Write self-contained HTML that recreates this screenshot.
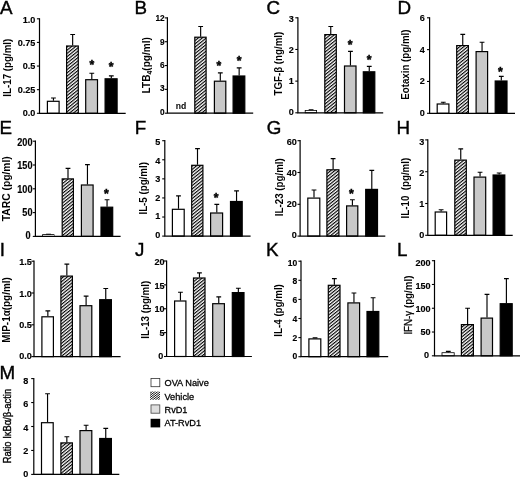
<!DOCTYPE html>
<html><head><meta charset="utf-8"><title>Figure</title>
<style>html,body{margin:0;padding:0;background:#fff;}svg{display:block;filter:grayscale(1);}text{font-family:"Liberation Sans", sans-serif;fill:#000;}.t{font-weight:bold;font-size:9.9px;text-anchor:end;stroke:#000;stroke-width:0.15px;}.yl{font-weight:bold;font-size:10.6px;text-anchor:middle;}.pl{font-size:18.8px;stroke:#000;stroke-width:0.4px;}.lg{font-size:9.2px;}.st{font-weight:bold;font-size:12.2px;text-anchor:middle;stroke:#000;stroke-width:0.45px;}.nd{font-weight:bold;font-size:8.6px;text-anchor:middle;}</style></head><body>
<svg width="520" height="477" viewBox="0 0 520 477">
<defs><pattern id="h" patternUnits="userSpaceOnUse" width="2.52" height="2.52" patternTransform="rotate(51)"><rect x="0" y="0" width="2.52" height="2.52" fill="#fff"/><rect x="0" y="0" width="1.15" height="2.52" fill="#000"/></pattern></defs>
<rect x="0" y="0" width="520" height="477" fill="#fff"/>
<g>
<text class="pl" x="-0.1" y="14.2">A</text>
<text class="yl" style="font-size:10.60px" transform="translate(6.9,67.7) rotate(-90) scale(0.920,1)" x="0" y="3.71">IL-17 (pg/ml)</text>
<path d="M53.45 100.80V98.00M51.05 98.00H55.85" stroke="#000" stroke-width="1.15" fill="none"/>
<path d="M72.65 45.50V34.50M70.25 34.50H75.05" stroke="#000" stroke-width="1.15" fill="none"/>
<path d="M91.80 79.20V73.20M89.40 73.20H94.20" stroke="#000" stroke-width="1.15" fill="none"/>
<path d="M111.30 78.30V75.90M108.90 75.90H113.70" stroke="#000" stroke-width="1.15" fill="none"/>
<rect x="47.40" y="101.30" width="11.70" height="12.00" fill="#fff" stroke="#000" stroke-width="1.2"/>
<rect x="66.60" y="46.00" width="11.70" height="67.30" fill="url(#h)" stroke="#000" stroke-width="1.2"/>
<rect x="85.70" y="79.70" width="11.80" height="33.60" fill="#c8c8c8" stroke="#000" stroke-width="1.2"/>
<rect x="105.10" y="78.80" width="12.00" height="34.50" fill="#000" stroke="#000" stroke-width="1.2"/>
<path d="M39.50 18.20V113.30H125.70" stroke="#000" stroke-width="1.2" fill="none"/>
<path d="M36.90 113.30H39.50" stroke="#000" stroke-width="1.1"/>
<text class="t" style="font-size:9.90px" transform="translate(35.4,115.8) scale(0.920,1)" x="0" y="0">0.0</text>
<path d="M36.90 89.67H39.50" stroke="#000" stroke-width="1.1"/>
<text class="t" style="font-size:9.90px" transform="translate(35.4,92.6) scale(0.920,1)" x="0" y="0">0.25</text>
<path d="M36.90 66.05H39.50" stroke="#000" stroke-width="1.1"/>
<text class="t" style="font-size:9.90px" transform="translate(35.4,69.3) scale(0.920,1)" x="0" y="0">0.5</text>
<path d="M36.90 42.42H39.50" stroke="#000" stroke-width="1.1"/>
<text class="t" style="font-size:9.90px" transform="translate(35.4,46.0) scale(0.920,1)" x="0" y="0">0.75</text>
<path d="M36.90 18.80H39.50" stroke="#000" stroke-width="1.1"/>
<text class="t" style="font-size:9.90px" transform="translate(35.4,22.7) scale(0.920,1)" x="0" y="0">1.0</text>
<text class="st" x="91.8" y="69.4">*</text>
<text class="st" x="111.0" y="71.0">*</text>
</g>
<g>
<text class="pl" x="134.5" y="14.2">B</text>
<text class="yl" style="font-size:11.00px" transform="translate(146.4,65.2) rotate(-90) scale(0.920,1)" x="0" y="3.85">LTB<tspan font-size="7.5px" dy="1.8">4</tspan><tspan dy="-1.8">(pg/ml)</tspan></text>
<path d="M200.65 36.70V26.50M198.25 26.50H203.05" stroke="#000" stroke-width="1.15" fill="none"/>
<path d="M220.30 80.70V72.90M217.90 72.90H222.70" stroke="#000" stroke-width="1.15" fill="none"/>
<path d="M239.15 75.50V67.90M236.75 67.90H241.55" stroke="#000" stroke-width="1.15" fill="none"/>
<rect x="194.80" y="37.20" width="11.30" height="76.00" fill="url(#h)" stroke="#000" stroke-width="1.2"/>
<rect x="214.40" y="81.20" width="11.40" height="32.00" fill="#c8c8c8" stroke="#000" stroke-width="1.2"/>
<rect x="233.10" y="76.00" width="11.70" height="37.20" fill="#000" stroke="#000" stroke-width="1.2"/>
<path d="M167.40 17.30V113.20H253.20" stroke="#000" stroke-width="1.2" fill="none"/>
<path d="M164.80 113.20H167.40" stroke="#000" stroke-width="1.1"/>
<text class="t" style="font-size:8.90px" transform="translate(164.7,114.8) scale(0.930,1)" x="0" y="0">0</text>
<path d="M164.80 89.38H167.40" stroke="#000" stroke-width="1.1"/>
<text class="t" style="font-size:8.90px" transform="translate(164.7,91.4) scale(0.930,1)" x="0" y="0">3</text>
<path d="M164.80 65.55H167.40" stroke="#000" stroke-width="1.1"/>
<text class="t" style="font-size:8.90px" transform="translate(164.7,68.1) scale(0.930,1)" x="0" y="0">6</text>
<path d="M164.80 41.72H167.40" stroke="#000" stroke-width="1.1"/>
<text class="t" style="font-size:8.90px" transform="translate(164.7,44.7) scale(0.930,1)" x="0" y="0">9</text>
<path d="M164.80 17.90H167.40" stroke="#000" stroke-width="1.1"/>
<text class="t" style="font-size:8.90px" transform="translate(164.7,21.4) scale(0.930,1)" x="0" y="0">12</text>
<text class="st" x="218.8" y="69.8">*</text>
<text class="st" x="239.0" y="65.1">*</text>
<text class="nd" x="181.0" y="109.3">nd</text>
</g>
<g>
<text class="pl" x="266.4" y="14.2">C</text>
<text class="yl" style="font-size:10.60px" transform="translate(277.9,63.6) rotate(-90) scale(0.920,1)" x="0" y="3.71">TGF-β (ng/ml)</text>
<path d="M311.10 110.20V109.70M308.70 109.70H313.50" stroke="#000" stroke-width="1.15" fill="none"/>
<path d="M330.75 34.10V26.50M328.35 26.50H333.15" stroke="#000" stroke-width="1.15" fill="none"/>
<path d="M350.45 65.50V51.40M348.05 51.40H352.85" stroke="#000" stroke-width="1.15" fill="none"/>
<path d="M369.25 71.30V66.30M366.85 66.30H371.65" stroke="#000" stroke-width="1.15" fill="none"/>
<rect x="305.20" y="110.50" width="11.40" height="2.30" fill="#fff" stroke="#000" stroke-width="0.8"/>
<rect x="324.80" y="34.60" width="11.50" height="78.20" fill="url(#h)" stroke="#000" stroke-width="1.2"/>
<rect x="344.50" y="66.00" width="11.50" height="46.80" fill="#c8c8c8" stroke="#000" stroke-width="1.2"/>
<rect x="363.30" y="71.80" width="11.50" height="41.00" fill="#000" stroke="#000" stroke-width="1.2"/>
<path d="M297.90 17.20V112.80H383.20" stroke="#000" stroke-width="1.2" fill="none"/>
<path d="M295.30 112.80H297.90" stroke="#000" stroke-width="1.1"/>
<text class="t" style="font-size:9.90px" transform="translate(293.8,115.1) scale(0.920,1)" x="0" y="0">0</text>
<path d="M295.30 81.13H297.90" stroke="#000" stroke-width="1.1"/>
<text class="t" style="font-size:9.90px" transform="translate(293.8,84.0) scale(0.920,1)" x="0" y="0">1</text>
<path d="M295.30 49.47H297.90" stroke="#000" stroke-width="1.1"/>
<text class="t" style="font-size:9.90px" transform="translate(293.8,52.9) scale(0.920,1)" x="0" y="0">2</text>
<path d="M295.30 17.80H297.90" stroke="#000" stroke-width="1.1"/>
<text class="t" style="font-size:9.90px" transform="translate(293.8,21.8) scale(0.920,1)" x="0" y="0">3</text>
<text class="st" x="350.1" y="49.4">*</text>
<text class="st" x="369.0" y="64.3">*</text>
</g>
<g>
<text class="pl" x="397.4" y="14.2">D</text>
<text class="yl" style="font-size:10.60px" transform="translate(405.6,64.6) rotate(-90) scale(0.920,1)" x="0" y="3.71">Eotaxin (pg/ml)</text>
<path d="M443.25 103.50V102.20M440.85 102.20H445.65" stroke="#000" stroke-width="1.15" fill="none"/>
<path d="M462.75 45.10V34.40M460.35 34.40H465.15" stroke="#000" stroke-width="1.15" fill="none"/>
<path d="M482.05 51.10V42.20M479.65 42.20H484.45" stroke="#000" stroke-width="1.15" fill="none"/>
<path d="M501.30 80.50V76.30M498.90 76.30H503.70" stroke="#000" stroke-width="1.15" fill="none"/>
<rect x="437.20" y="104.00" width="11.70" height="9.30" fill="#fff" stroke="#000" stroke-width="1.2"/>
<rect x="456.70" y="45.60" width="11.70" height="67.70" fill="url(#h)" stroke="#000" stroke-width="1.2"/>
<rect x="476.10" y="51.60" width="11.50" height="61.70" fill="#c8c8c8" stroke="#000" stroke-width="1.2"/>
<rect x="495.20" y="81.00" width="11.80" height="32.30" fill="#000" stroke="#000" stroke-width="1.2"/>
<path d="M429.60 17.20V113.30H515.00" stroke="#000" stroke-width="1.2" fill="none"/>
<path d="M427.00 113.30H429.60" stroke="#000" stroke-width="1.1"/>
<text class="t" style="font-size:9.90px" transform="translate(424.8,115.7) scale(0.920,1)" x="0" y="0">0</text>
<path d="M427.00 81.47H429.60" stroke="#000" stroke-width="1.1"/>
<text class="t" style="font-size:9.90px" transform="translate(424.8,84.3) scale(0.920,1)" x="0" y="0">2</text>
<path d="M427.00 49.63H429.60" stroke="#000" stroke-width="1.1"/>
<text class="t" style="font-size:9.90px" transform="translate(424.8,52.9) scale(0.920,1)" x="0" y="0">4</text>
<path d="M427.00 17.80H429.60" stroke="#000" stroke-width="1.1"/>
<text class="t" style="font-size:9.90px" transform="translate(424.8,21.4) scale(0.920,1)" x="0" y="0">6</text>
<text class="st" x="500.3" y="75.6">*</text>
</g>
<g>
<text class="pl" x="-0.4" y="133.8">E</text>
<text class="yl" style="font-size:11.20px" transform="translate(5.9,188.7) rotate(-90) scale(0.920,1)" x="0" y="3.92">TARC (pg/ml)</text>
<path d="M48.50 234.30V234.30M46.10 234.30H50.90" stroke="#000" stroke-width="1.15" fill="none"/>
<path d="M68.00 178.40V168.30M65.60 168.30H70.40" stroke="#000" stroke-width="1.15" fill="none"/>
<path d="M87.45 184.50V164.60M85.05 164.60H89.85" stroke="#000" stroke-width="1.15" fill="none"/>
<path d="M107.05 206.70V199.70M104.65 199.70H109.45" stroke="#000" stroke-width="1.15" fill="none"/>
<rect x="42.60" y="234.60" width="11.40" height="1.80" fill="#fff" stroke="#000" stroke-width="0.8"/>
<rect x="62.20" y="178.90" width="11.20" height="57.50" fill="url(#h)" stroke="#000" stroke-width="1.2"/>
<rect x="81.40" y="185.00" width="11.70" height="51.40" fill="#c8c8c8" stroke="#000" stroke-width="1.2"/>
<rect x="101.00" y="207.20" width="11.70" height="29.20" fill="#000" stroke="#000" stroke-width="1.2"/>
<path d="M35.40 140.60V236.40H120.60" stroke="#000" stroke-width="1.2" fill="none"/>
<path d="M32.80 236.40H35.40" stroke="#000" stroke-width="1.1"/>
<text class="t" style="font-size:10.40px" transform="translate(30.5,239.0) scale(0.880,1)" x="0" y="0">0</text>
<path d="M32.80 212.60H35.40" stroke="#000" stroke-width="1.1"/>
<text class="t" style="font-size:10.40px" transform="translate(32.5,215.8) scale(0.880,1)" x="0" y="0">50</text>
<path d="M32.80 188.80H35.40" stroke="#000" stroke-width="1.1"/>
<text class="t" style="font-size:10.40px" transform="translate(32.5,192.6) scale(0.880,1)" x="0" y="0">100</text>
<path d="M32.80 165.00H35.40" stroke="#000" stroke-width="1.1"/>
<text class="t" style="font-size:10.40px" transform="translate(32.5,169.3) scale(0.880,1)" x="0" y="0">150</text>
<path d="M32.80 141.20H35.40" stroke="#000" stroke-width="1.1"/>
<text class="t" style="font-size:10.40px" transform="translate(32.5,146.1) scale(0.880,1)" x="0" y="0">200</text>
<text class="st" x="106.4" y="197.6">*</text>
</g>
<g>
<text class="pl" x="134.7" y="133.8">F</text>
<text class="yl" style="font-size:10.60px" transform="translate(143.7,188.3) rotate(-90) scale(0.920,1)" x="0" y="3.71">IL-5 (pg/ml)</text>
<path d="M178.50 208.80V195.80M176.10 195.80H180.90" stroke="#000" stroke-width="1.15" fill="none"/>
<path d="M197.50 164.80V148.60M195.10 148.60H199.90" stroke="#000" stroke-width="1.15" fill="none"/>
<path d="M216.80 212.50V204.40M214.40 204.40H219.20" stroke="#000" stroke-width="1.15" fill="none"/>
<path d="M236.55 201.00V190.80M234.15 190.80H238.95" stroke="#000" stroke-width="1.15" fill="none"/>
<rect x="172.40" y="209.30" width="11.80" height="26.80" fill="#fff" stroke="#000" stroke-width="1.2"/>
<rect x="191.70" y="165.30" width="11.20" height="70.80" fill="url(#h)" stroke="#000" stroke-width="1.2"/>
<rect x="210.60" y="213.00" width="12.00" height="23.10" fill="#c8c8c8" stroke="#000" stroke-width="1.2"/>
<rect x="230.50" y="201.50" width="11.70" height="34.60" fill="#000" stroke="#000" stroke-width="1.2"/>
<path d="M164.80 140.10V236.10H250.60" stroke="#000" stroke-width="1.2" fill="none"/>
<path d="M162.20 236.10H164.80" stroke="#000" stroke-width="1.1"/>
<text class="t" style="font-size:9.90px" transform="translate(160.4,237.6) scale(0.920,1)" x="0" y="0">0</text>
<path d="M162.20 217.02H164.80" stroke="#000" stroke-width="1.1"/>
<text class="t" style="font-size:9.90px" transform="translate(160.4,219.2) scale(0.920,1)" x="0" y="0">1</text>
<path d="M162.20 197.94H164.80" stroke="#000" stroke-width="1.1"/>
<text class="t" style="font-size:9.90px" transform="translate(160.4,200.8) scale(0.920,1)" x="0" y="0">2</text>
<path d="M162.20 178.86H164.80" stroke="#000" stroke-width="1.1"/>
<text class="t" style="font-size:9.90px" transform="translate(160.4,182.3) scale(0.920,1)" x="0" y="0">3</text>
<path d="M162.20 159.78H164.80" stroke="#000" stroke-width="1.1"/>
<text class="t" style="font-size:9.90px" transform="translate(160.4,163.9) scale(0.920,1)" x="0" y="0">4</text>
<path d="M162.20 140.70H164.80" stroke="#000" stroke-width="1.1"/>
<text class="t" style="font-size:9.90px" transform="translate(160.4,145.4) scale(0.920,1)" x="0" y="0">5</text>
<text class="st" x="216.2" y="202.0">*</text>
</g>
<g>
<text class="pl" x="266.7" y="133.8">G</text>
<text class="yl" style="font-size:10.60px" transform="translate(279.3,187.2) rotate(-90) scale(0.920,1)" x="0" y="3.71">IL-23 (pg/ml)</text>
<path d="M314.00 197.60V190.00M311.60 190.00H316.40" stroke="#000" stroke-width="1.15" fill="none"/>
<path d="M333.10 169.30V158.60M330.70 158.60H335.50" stroke="#000" stroke-width="1.15" fill="none"/>
<path d="M352.40 205.40V199.70M350.00 199.70H354.80" stroke="#000" stroke-width="1.15" fill="none"/>
<path d="M371.80 188.90V170.30M369.40 170.30H374.20" stroke="#000" stroke-width="1.15" fill="none"/>
<rect x="307.80" y="198.10" width="12.00" height="38.00" fill="#fff" stroke="#000" stroke-width="1.2"/>
<rect x="326.90" y="169.80" width="12.00" height="66.30" fill="url(#h)" stroke="#000" stroke-width="1.2"/>
<rect x="346.60" y="205.90" width="11.20" height="30.20" fill="#c8c8c8" stroke="#000" stroke-width="1.2"/>
<rect x="365.70" y="189.40" width="11.80" height="46.70" fill="#000" stroke="#000" stroke-width="1.2"/>
<path d="M300.10 140.10V236.10H385.30" stroke="#000" stroke-width="1.2" fill="none"/>
<path d="M297.50 236.10H300.10" stroke="#000" stroke-width="1.1"/>
<text class="t" style="font-size:9.90px" transform="translate(296.9,237.7) scale(0.920,1)" x="0" y="0">0</text>
<path d="M297.50 204.30H300.10" stroke="#000" stroke-width="1.1"/>
<text class="t" style="font-size:9.90px" transform="translate(296.9,206.9) scale(0.920,1)" x="0" y="0">20</text>
<path d="M297.50 172.50H300.10" stroke="#000" stroke-width="1.1"/>
<text class="t" style="font-size:9.90px" transform="translate(296.9,176.1) scale(0.920,1)" x="0" y="0">40</text>
<path d="M297.50 140.70H300.10" stroke="#000" stroke-width="1.1"/>
<text class="t" style="font-size:9.90px" transform="translate(296.9,145.2) scale(0.920,1)" x="0" y="0">60</text>
<text class="st" x="351.4" y="197.6">*</text>
</g>
<g>
<text class="pl" x="396.6" y="133.8">H</text>
<text class="yl" style="font-size:10.60px" transform="translate(405.3,188.1) rotate(-90) scale(0.920,1)" x="0" y="3.71">IL-10&#160;&#160;(pg/ml)</text>
<path d="M441.10 211.50V209.70M438.70 209.70H443.50" stroke="#000" stroke-width="1.15" fill="none"/>
<path d="M460.75 159.60V148.90M458.35 148.90H463.15" stroke="#000" stroke-width="1.15" fill="none"/>
<path d="M480.05 176.60V172.20M477.65 172.20H482.45" stroke="#000" stroke-width="1.15" fill="none"/>
<path d="M499.15 174.50V173.00M496.75 173.00H501.55" stroke="#000" stroke-width="1.15" fill="none"/>
<rect x="435.20" y="212.00" width="11.40" height="23.30" fill="#fff" stroke="#000" stroke-width="1.2"/>
<rect x="454.80" y="160.10" width="11.50" height="75.20" fill="url(#h)" stroke="#000" stroke-width="1.2"/>
<rect x="474.00" y="177.10" width="11.70" height="58.20" fill="#c8c8c8" stroke="#000" stroke-width="1.2"/>
<rect x="493.10" y="175.00" width="11.70" height="60.30" fill="#000" stroke="#000" stroke-width="1.2"/>
<path d="M427.80 139.30V235.30H512.70" stroke="#000" stroke-width="1.2" fill="none"/>
<path d="M425.20 235.30H427.80" stroke="#000" stroke-width="1.1"/>
<text class="t" style="font-size:9.90px" transform="translate(424.2,238.0) scale(0.920,1)" x="0" y="0">0</text>
<path d="M425.20 203.50H427.80" stroke="#000" stroke-width="1.1"/>
<text class="t" style="font-size:9.90px" transform="translate(424.2,207.0) scale(0.920,1)" x="0" y="0">1</text>
<path d="M425.20 171.70H427.80" stroke="#000" stroke-width="1.1"/>
<text class="t" style="font-size:9.90px" transform="translate(424.2,176.0) scale(0.920,1)" x="0" y="0">2</text>
<path d="M425.20 139.90H427.80" stroke="#000" stroke-width="1.1"/>
<text class="t" style="font-size:9.90px" transform="translate(424.2,145.0) scale(0.920,1)" x="0" y="0">3</text>
</g>
<g>
<text class="pl" x="-0.3" y="255.6">I</text>
<text class="yl" style="font-size:10.80px" transform="translate(6.4,310.0) rotate(-90) scale(0.920,1)" x="0" y="3.78">MIP-1α(pg/ml)</text>
<path d="M47.85 316.30V310.80M45.45 310.80H50.25" stroke="#000" stroke-width="1.15" fill="none"/>
<path d="M66.85 275.60V264.10M64.45 264.10H69.25" stroke="#000" stroke-width="1.15" fill="none"/>
<path d="M86.10 305.20V296.10M83.70 296.10H88.50" stroke="#000" stroke-width="1.15" fill="none"/>
<path d="M105.75 299.20V288.50M103.35 288.50H108.15" stroke="#000" stroke-width="1.15" fill="none"/>
<rect x="41.90" y="316.80" width="11.50" height="39.80" fill="#fff" stroke="#000" stroke-width="1.2"/>
<rect x="60.90" y="276.10" width="11.50" height="80.50" fill="url(#h)" stroke="#000" stroke-width="1.2"/>
<rect x="80.00" y="305.70" width="11.80" height="50.90" fill="#c8c8c8" stroke="#000" stroke-width="1.2"/>
<rect x="99.70" y="299.70" width="11.70" height="56.90" fill="#000" stroke="#000" stroke-width="1.2"/>
<path d="M34.00 260.60V356.60H120.60" stroke="#000" stroke-width="1.2" fill="none"/>
<path d="M31.40 356.60H34.00" stroke="#000" stroke-width="1.1"/>
<text class="t" style="font-size:9.90px" transform="translate(31.8,359.1) scale(0.920,1)" x="0" y="0">0.0</text>
<path d="M31.40 324.80H34.00" stroke="#000" stroke-width="1.1"/>
<text class="t" style="font-size:9.90px" transform="translate(31.8,327.9) scale(0.920,1)" x="0" y="0">0.5</text>
<path d="M31.40 293.00H34.00" stroke="#000" stroke-width="1.1"/>
<text class="t" style="font-size:9.90px" transform="translate(31.8,296.6) scale(0.920,1)" x="0" y="0">1.0</text>
<path d="M31.40 261.20H34.00" stroke="#000" stroke-width="1.1"/>
<text class="t" style="font-size:9.90px" transform="translate(31.8,265.3) scale(0.920,1)" x="0" y="0">1.5</text>
</g>
<g>
<text class="pl" x="135.0" y="255.6">J</text>
<text class="yl" style="font-size:10.60px" transform="translate(145.0,309.8) rotate(-90) scale(0.920,1)" x="0" y="3.71">IL-13 (pg/ml)</text>
<path d="M180.45 300.50V292.20M178.05 292.20H182.85" stroke="#000" stroke-width="1.15" fill="none"/>
<path d="M199.45 277.50V272.80M197.05 272.80H201.85" stroke="#000" stroke-width="1.15" fill="none"/>
<path d="M218.75 303.20V296.90M216.35 296.90H221.15" stroke="#000" stroke-width="1.15" fill="none"/>
<path d="M238.35 292.10V288.20M235.95 288.20H240.75" stroke="#000" stroke-width="1.15" fill="none"/>
<rect x="174.60" y="301.00" width="11.30" height="55.50" fill="#fff" stroke="#000" stroke-width="1.2"/>
<rect x="193.50" y="278.00" width="11.50" height="78.50" fill="url(#h)" stroke="#000" stroke-width="1.2"/>
<rect x="212.70" y="303.70" width="11.70" height="52.80" fill="#c8c8c8" stroke="#000" stroke-width="1.2"/>
<rect x="232.30" y="292.60" width="11.70" height="63.90" fill="#000" stroke="#000" stroke-width="1.2"/>
<path d="M166.60 260.40V356.50H251.90" stroke="#000" stroke-width="1.2" fill="none"/>
<path d="M164.00 356.50H166.60" stroke="#000" stroke-width="1.1"/>
<text class="t" style="font-size:9.90px" transform="translate(163.3,358.9) scale(0.920,1)" x="0" y="0">0</text>
<path d="M164.00 332.62H166.60" stroke="#000" stroke-width="1.1"/>
<text class="t" style="font-size:9.90px" transform="translate(164.6,335.6) scale(0.920,1)" x="0" y="0">5</text>
<path d="M164.00 308.75H166.60" stroke="#000" stroke-width="1.1"/>
<text class="t" style="font-size:9.90px" transform="translate(164.6,312.2) scale(0.920,1)" x="0" y="0">10</text>
<path d="M164.00 284.88H166.60" stroke="#000" stroke-width="1.1"/>
<text class="t" style="font-size:9.90px" transform="translate(164.6,288.8) scale(0.920,1)" x="0" y="0">15</text>
<path d="M164.00 261.00H166.60" stroke="#000" stroke-width="1.1"/>
<text class="t" style="font-size:9.90px" transform="translate(164.6,265.4) scale(0.920,1)" x="0" y="0">20</text>
</g>
<g>
<text class="pl" x="266.1" y="255.6">K</text>
<text class="yl" style="font-size:10.60px" transform="translate(277.8,310.4) rotate(-90) scale(0.920,1)" x="0" y="3.71">IL-4 (pg/ml)</text>
<path d="M315.05 338.40V337.80M312.65 337.80H317.45" stroke="#000" stroke-width="1.15" fill="none"/>
<path d="M334.35 284.80V278.60M331.95 278.60H336.75" stroke="#000" stroke-width="1.15" fill="none"/>
<path d="M353.95 302.40V293.00M351.55 293.00H356.35" stroke="#000" stroke-width="1.15" fill="none"/>
<path d="M373.10 311.00V297.70M370.70 297.70H375.50" stroke="#000" stroke-width="1.15" fill="none"/>
<rect x="308.90" y="338.90" width="11.90" height="17.80" fill="#fff" stroke="#000" stroke-width="1.2"/>
<rect x="328.30" y="285.30" width="11.70" height="71.40" fill="url(#h)" stroke="#000" stroke-width="1.2"/>
<rect x="347.90" y="302.90" width="11.70" height="53.80" fill="#c8c8c8" stroke="#000" stroke-width="1.2"/>
<rect x="367.00" y="311.50" width="11.80" height="45.20" fill="#000" stroke="#000" stroke-width="1.2"/>
<path d="M301.00 260.60V356.70H388.20" stroke="#000" stroke-width="1.2" fill="none"/>
<path d="M298.40 356.70H301.00" stroke="#000" stroke-width="1.1"/>
<text class="t" style="font-size:9.20px" transform="translate(297.2,359.4) scale(0.930,1)" x="0" y="0">0</text>
<path d="M298.40 337.60H301.00" stroke="#000" stroke-width="1.1"/>
<text class="t" style="font-size:9.20px" transform="translate(297.2,340.7) scale(0.930,1)" x="0" y="0">2</text>
<path d="M298.40 318.50H301.00" stroke="#000" stroke-width="1.1"/>
<text class="t" style="font-size:9.20px" transform="translate(297.2,321.9) scale(0.930,1)" x="0" y="0">4</text>
<path d="M298.40 299.40H301.00" stroke="#000" stroke-width="1.1"/>
<text class="t" style="font-size:9.20px" transform="translate(297.2,303.2) scale(0.930,1)" x="0" y="0">6</text>
<path d="M298.40 280.30H301.00" stroke="#000" stroke-width="1.1"/>
<text class="t" style="font-size:9.20px" transform="translate(297.2,284.4) scale(0.930,1)" x="0" y="0">8</text>
<path d="M298.40 261.20H301.00" stroke="#000" stroke-width="1.1"/>
<text class="t" style="font-size:9.20px" transform="translate(297.2,265.7) scale(0.930,1)" x="0" y="0">10</text>
</g>
<g>
<text class="pl" x="396.9" y="255.6">L</text>
<text class="yl" style="font-size:10.60px" transform="translate(408.2,305.1) rotate(-90) scale(0.920,1)" x="0" y="3.71"><tspan font-weight="normal" stroke="#000" stroke-width="0.3">IFN-γ</tspan> (pg/ml)</text>
<path d="M448.30 352.40V351.40M445.90 351.40H450.70" stroke="#000" stroke-width="1.15" fill="none"/>
<path d="M467.60 324.10V308.20M465.20 308.20H470.00" stroke="#000" stroke-width="1.15" fill="none"/>
<path d="M487.00 317.60V294.30M484.60 294.30H489.40" stroke="#000" stroke-width="1.15" fill="none"/>
<path d="M506.40 303.20V278.60M504.00 278.60H508.80" stroke="#000" stroke-width="1.15" fill="none"/>
<rect x="442.00" y="352.70" width="12.20" height="3.10" fill="#fff" stroke="#000" stroke-width="0.8"/>
<rect x="461.40" y="324.60" width="12.00" height="31.20" fill="url(#h)" stroke="#000" stroke-width="1.2"/>
<rect x="481.10" y="318.10" width="11.40" height="37.70" fill="#c8c8c8" stroke="#000" stroke-width="1.2"/>
<rect x="500.20" y="303.70" width="12.00" height="52.10" fill="#000" stroke="#000" stroke-width="1.2"/>
<path d="M434.50 260.10V355.80H520.00" stroke="#000" stroke-width="1.2" fill="none"/>
<path d="M431.90 355.80H434.50" stroke="#000" stroke-width="1.1"/>
<text class="t" style="font-size:9.90px" transform="translate(429.1,358.2) scale(0.920,1)" x="0" y="0">0</text>
<path d="M431.90 332.02H434.50" stroke="#000" stroke-width="1.1"/>
<text class="t" style="font-size:9.90px" transform="translate(430.6,335.1) scale(0.920,1)" x="0" y="0">50</text>
<path d="M431.90 308.25H434.50" stroke="#000" stroke-width="1.1"/>
<text class="t" style="font-size:9.90px" transform="translate(430.6,312.0) scale(0.920,1)" x="0" y="0">100</text>
<path d="M431.90 284.48H434.50" stroke="#000" stroke-width="1.1"/>
<text class="t" style="font-size:9.90px" transform="translate(430.6,288.9) scale(0.920,1)" x="0" y="0">150</text>
<path d="M431.90 260.70H434.50" stroke="#000" stroke-width="1.1"/>
<text class="t" style="font-size:9.90px" transform="translate(430.6,265.8) scale(0.920,1)" x="0" y="0">200</text>
</g>
<g>
<text class="pl" x="-0.4" y="378.9">M</text>
<text class="yl" style="font-size:10.20px" transform="translate(7.2,426.1) rotate(-90) scale(0.920,1)" x="0" y="3.57"><tspan font-weight="normal" stroke="#000" stroke-width="0.35">Ratio IκBα/β-actin</tspan></text>
<path d="M47.55 422.20V393.70M45.15 393.70H49.95" stroke="#000" stroke-width="1.15" fill="none"/>
<path d="M66.85 442.40V436.70M64.45 436.70H69.25" stroke="#000" stroke-width="1.15" fill="none"/>
<path d="M86.10 430.10V425.20M83.70 425.20H88.50" stroke="#000" stroke-width="1.15" fill="none"/>
<path d="M105.75 438.00V428.30M103.35 428.30H108.15" stroke="#000" stroke-width="1.15" fill="none"/>
<rect x="41.50" y="422.70" width="11.70" height="51.70" fill="#fff" stroke="#000" stroke-width="1.2"/>
<rect x="60.90" y="442.90" width="11.50" height="31.50" fill="url(#h)" stroke="#000" stroke-width="1.2"/>
<rect x="80.00" y="430.60" width="11.80" height="43.80" fill="#c8c8c8" stroke="#000" stroke-width="1.2"/>
<rect x="99.70" y="438.50" width="11.70" height="35.90" fill="#000" stroke="#000" stroke-width="1.2"/>
<path d="M33.80 378.00V474.40H119.30" stroke="#000" stroke-width="1.2" fill="none"/>
<path d="M31.20 474.40H33.80" stroke="#000" stroke-width="1.1"/>
<text class="t" style="font-size:9.90px" transform="translate(28.4,476.9) scale(0.920,1)" x="0" y="0">0</text>
<path d="M31.20 450.45H33.80" stroke="#000" stroke-width="1.1"/>
<text class="t" style="font-size:9.90px" transform="translate(28.4,453.8) scale(0.920,1)" x="0" y="0">2</text>
<path d="M31.20 426.50H33.80" stroke="#000" stroke-width="1.1"/>
<text class="t" style="font-size:9.90px" transform="translate(28.4,430.6) scale(0.920,1)" x="0" y="0">4</text>
<path d="M31.20 402.55H33.80" stroke="#000" stroke-width="1.1"/>
<text class="t" style="font-size:9.90px" transform="translate(28.4,407.4) scale(0.920,1)" x="0" y="0">6</text>
<path d="M31.20 378.60H33.80" stroke="#000" stroke-width="1.1"/>
<text class="t" style="font-size:9.90px" transform="translate(28.4,384.2) scale(0.920,1)" x="0" y="0">8</text>
</g>
<g>
<rect x="151" y="378.4" width="8.8" height="8.3" fill="#fff" stroke="#333" stroke-width="0.8"/>
<defs><clipPath id="lc"><rect x="150.0" y="391.4" width="10.0" height="8.3"/></clipPath></defs>
<path d="M149 392.00L161 382.62M149 394.15L161 384.77M149 396.30L161 386.92M149 398.45L161 389.07M149 400.60L161 391.22M149 402.75L161 393.37M149 404.90L161 395.52M149 407.05L161 397.67" stroke="#000" stroke-width="0.95" fill="none" clip-path="url(#lc)"/>
<rect x="151" y="404.9" width="8.8" height="8.3" fill="#dedede" stroke="#444" stroke-width="0.8"/>
<rect x="150.6" y="418.8" width="9.6" height="8.6" fill="#000"/>
<text class="lg" x="164.5" y="386.3" stroke="#000" stroke-width="0.28">OVA Naive</text>
<text class="lg" x="164.5" y="399.8" stroke="#000" stroke-width="0.28">Vehicle</text>
<text class="lg" x="164.5" y="412.6" stroke="#000" stroke-width="0.28">RvD1</text>
<text class="lg" x="164.5" y="426.3" stroke="#000" stroke-width="0.28">AT-RvD1</text>
</g>
</svg></body></html>
